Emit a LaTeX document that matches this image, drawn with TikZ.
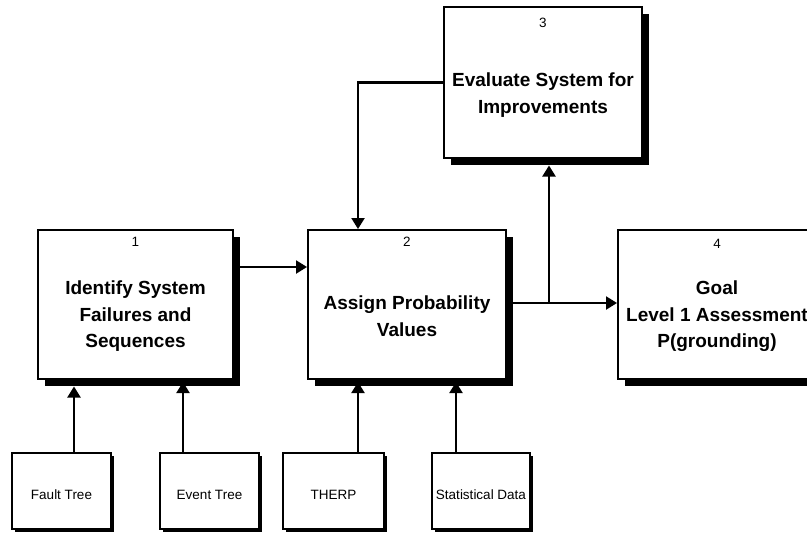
\documentclass[tikz,border=0pt]{standalone}
\usepackage{fontspec}
\setmainfont{Liberation Sans}
\usetikzlibrary{arrows.meta,shadows,backgrounds}
\begin{document}
\begin{tikzpicture}[x=1pt,y=-1pt,
  bigbox/.style={draw,line width=2pt,fill=white,minimum width=196pt,minimum height=149pt,inner sep=0pt,
    drop shadow={shadow xshift=6.5pt,shadow yshift=-6.5pt,fill=black,opacity=1}},
  smallbox/.style={draw,line width=1.8pt,fill=white,minimum height=76pt,inner sep=0pt,
    drop shadow={shadow xshift=3pt,shadow yshift=-3pt,fill=black,opacity=1}},
  lbl/.style={font=\bfseries\fontsize{19}{26.5}\selectfont,align=center,inner sep=0pt},
  num/.style={font=\fontsize{13.5}{15}\selectfont,inner sep=0pt},
  slbl/.style={font=\fontsize{13.5}{16}\selectfont,inner sep=0pt},
  arr/.style={line width=2.2pt,-{Triangle[length=11pt,width=13pt]}}
]
\useasboundingbox (0,0) rectangle (807,533);

% main boxes
\node[bigbox,minimum width=195pt] (b1) at (135.5,304.5) {};
\node[bigbox,minimum width=198pt] (b2) at (407,304.5) {};
\node[bigbox,minimum width=198pt,minimum height=151pt] (b3) at (543,82.5) {};
\node[bigbox,minimum width=198pt] (b4) at (717,304.5) {};

\node[num] (n1) at ([yshift=-13pt]b1.north) {1};
\node[num] (n2) at ([yshift=-13pt]b2.north) {2};
\node[num] (n3) at ([yshift=-17pt]b3.north) {3};
\node[num] (n4) at ([yshift=-15pt]b4.north) {4};

\node[lbl] (t1) at ([yshift=-12pt]b1.center) {Identify System\\Failures and\\Sequences};
\node[lbl] (t2) at ([yshift=-11.5pt]b2.center) {Assign Probability\\Values};
\node[lbl] (t3) at ([yshift=-12.5pt]b3.center) {Evaluate System for\\Improvements};
\node[lbl] (t4) at ([yshift=-12pt]b4.center) {Goal\\Level 1 Assessment\\P(grounding)};

% small boxes
\node[smallbox,minimum width=99pt] (ft) at (61.5,491) {};
\node[smallbox,minimum width=99pt] (et) at (209.5,491) {};
\node[smallbox,minimum width=101pt] (th) at (333.5,491) {};
\node[smallbox,minimum width=98pt] (sd) at (481,491) {};

\node[slbl] at ([yshift=-4pt]ft.center) {Fault Tree};
\node[slbl] at ([yshift=-4pt]et.center) {Event Tree};
\node[slbl] at ([yshift=-4pt]th.center) {THERP};
\node[slbl] at ([yshift=-4pt]sd.center) {Statistical Data};

\path ([yshift=-6.5pt]b1.south) coordinate (b1sh)
      ([yshift=-2pt]b1.south) coordinate (b1in)
      ([yshift=-2pt]b2.south) coordinate (b2in)
      ([xshift=6pt,yshift=-6.5pt]b3.south) coordinate (b3in)
      ([yshift=1.5pt]b2.east) coordinate (b2out);

\begin{scope}[on background layer]
\draw[arr] ([xshift=6pt,yshift=37.5pt]b1.east) -- ([yshift=37.5pt]b2.west);
\draw[arr] ([xshift=6pt]b2out) -- (b2out -| b4.west);
\draw[arr] (b3in |- b2out) -- (b3in);
\draw[arr] (b3.west) -| ([xshift=-49pt]b2.north);
\draw[arr] ([xshift=12.5pt]ft.north) -- ([xshift=12.5pt]ft.north |- b1sh);
\draw[arr] ([xshift=-26.5pt]et.north) -- ([xshift=-26.5pt]et.north |- b1in);
\draw[arr] ([xshift=24.5pt]th.north) -- ([xshift=24.5pt]th.north |- b2in);
\draw[arr] ([xshift=-25pt]sd.north) -- ([xshift=-25pt]sd.north |- b2in);
\end{scope}
\end{tikzpicture}
\end{document}
